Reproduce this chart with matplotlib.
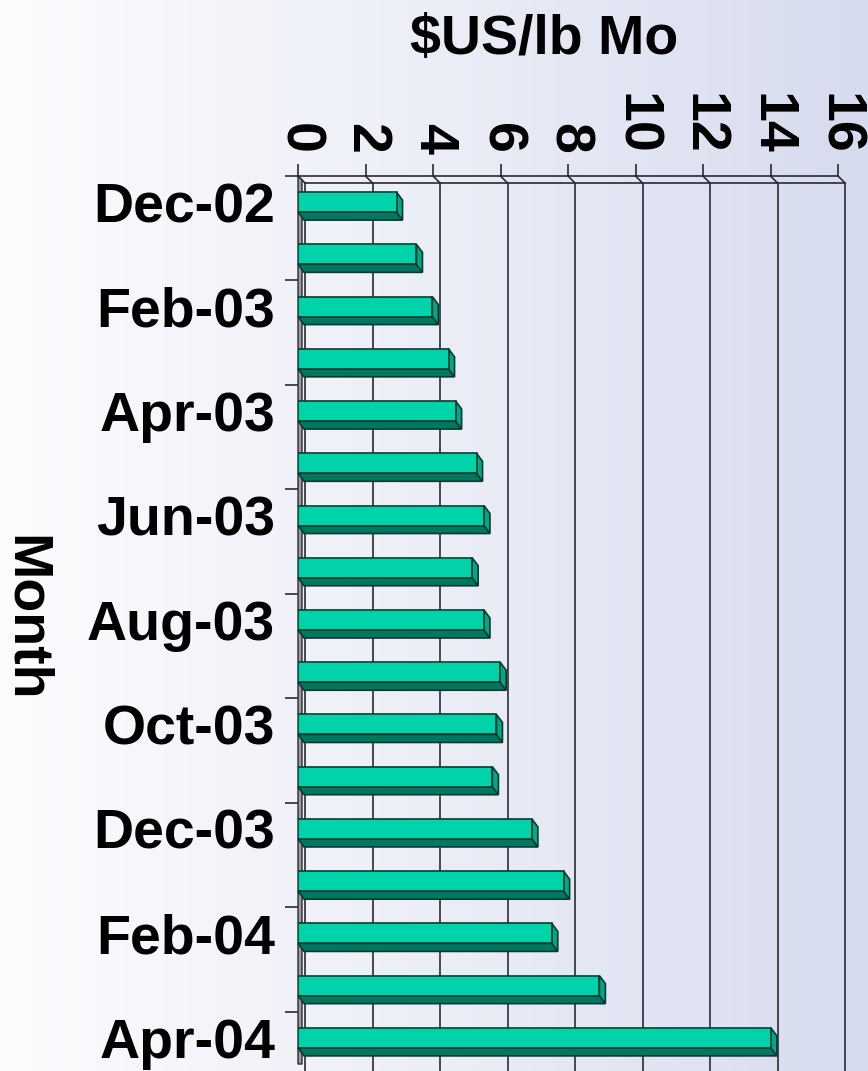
import numpy as np
import matplotlib.pyplot as plt
from matplotlib.colors import LinearSegmentedColormap
from matplotlib.patches import Polygon
from matplotlib.transforms import IdentityTransform

months = ['Dec-02', 'Jan-03', 'Feb-03', 'Mar-03', 'Apr-03', 'May-03', 'Jun-03',
          'Jul-03', 'Aug-03', 'Sep-03', 'Oct-03', 'Nov-03', 'Dec-03', 'Jan-04',
          'Feb-04', 'Mar-04', 'Apr-04']
prices = [2.92, 3.51, 3.98, 4.46, 4.67, 5.29, 5.51, 5.16, 5.51, 5.99, 5.88,
          5.76, 6.93, 7.87, 7.52, 8.93, 14.01]
xticks = [0, 2, 4, 6, 8, 10, 12, 14, 16]

plt.rcParams['font.family'] = ['Liberation Sans', 'DejaVu Sans']
plt.rcParams['font.weight'] = 'bold'

fig = plt.figure(figsize=(8.68, 10.71), dpi=100)

# background gradient, white on the left to lavender on the right
bg = fig.add_axes([0, 0, 1, 1], zorder=-5)
cmap = LinearSegmentedColormap.from_list('bg', ['#fcfcfe', '#eceef7', '#d6dbee'])
bg.imshow(np.linspace(0, 1, 256).reshape(1, -1), aspect='auto', cmap=cmap,
          extent=[0, 1, 0, 1])
bg.axis('off')

W, H = 868, 1071
ax = fig.add_axes([298 / W, 1 - 1064 / H, 540 / W, 888 / H])
ax.set_facecolor('none')
n = len(months)
ax.set_xlim(0, 16)
ax.set_ylim(n - 0.5, -0.5)
for s in ax.spines.values():
    s.set_visible(False)

ident = IdentityTransform()


def px(x, y, dx=0, dy=0):
    p = ax.transData.transform((x, y))
    return (p[0] + dx, p[1] - dy)


wall_d = (7, 7)
line_c = '#2a2a30'

# back wall grid lines
for v in xticks:
    a = px(v, -0.5, *wall_d)
    b = px(v, n - 0.5, *wall_d)
    ax.plot([a[0], b[0]], [a[1], b[1]], color='#3a3a42', lw=1.3,
            transform=ident, clip_on=False, zorder=1)
    c = px(v, -0.5)
    ax.plot([c[0], a[0]], [c[1], a[1]], color=line_c, lw=1.2,
            transform=ident, clip_on=False, zorder=1)

# top wall edges
for d in [(0, 0), wall_d]:
    a = px(0, -0.5, *d)
    b = px(16, -0.5, *d)
    ax.plot([a[0], b[0]], [a[1], b[1]], color=line_c, lw=1.2,
            transform=ident, clip_on=False, zorder=1)

# left wall edge (gray strip)
a = px(0, -0.5)
b = px(0, n - 0.5)
ax.add_patch(Polygon([a, (a[0] + 4, a[1] - 4), (b[0] + 4, b[1]), b],
                     closed=True, facecolor='#9c9ca0', edgecolor=line_c,
                     lw=1.0, transform=ident, clip_on=False, zorder=2))

# bars with a simple 3D look
h = 0.383
bar_d = (6, 8)
ax.barh(range(n), prices, height=h, left=0, color='#00d2aa',
        edgecolor='#0a3a30', linewidth=1.2, zorder=4)
for i, v in enumerate(prices):
    top, bot = i - h / 2, i + h / 2
    under = [px(0, bot), px(v, bot), px(v, bot, *bar_d), px(0, bot, *bar_d)]
    ax.add_patch(Polygon(under, closed=True, facecolor='#007860',
                         edgecolor='#0a3a30', lw=1.2, transform=ident,
                         clip_on=False, zorder=3))
    cap = [px(v, top), px(v, top, *bar_d), px(v, bot, *bar_d), px(v, bot)]
    ax.add_patch(Polygon(cap, closed=True, facecolor='#00a888',
                         edgecolor='#0a3a30', lw=1.2, transform=ident,
                         clip_on=False, zorder=3))

# x axis on top, labels turned on their side
ax.xaxis.tick_top()
ax.set_xticks(xticks)
ax.set_xticklabels([str(v) for v in xticks])
ax.tick_params(axis='x', length=8.6, width=1.2, color=line_c, pad=7,
               labelsize=40, labelrotation=270)

# y axis: label every other month, ticks between pairs
ax.set_yticks(range(0, n, 2))
ax.set_yticklabels(months[::2])
ax.set_yticks(np.arange(-0.5, n - 1, 2), minor=True)
ax.tick_params(axis='y', which='major', length=0, pad=16.5, labelsize=40)
ax.tick_params(axis='y', which='minor', length=9.4, width=1.2, color=line_c)

fig.text(544 / W, 1 - 40 / H, r'\$US/lb Mo', ha='center', va='center',
         fontsize=40, fontweight='bold')
fig.text(25 / W, 1 - 618 / H, 'Month', ha='center', va='center',
         rotation=270, fontsize=40, fontweight='bold')

fig.savefig('out.png', dpi=100)
